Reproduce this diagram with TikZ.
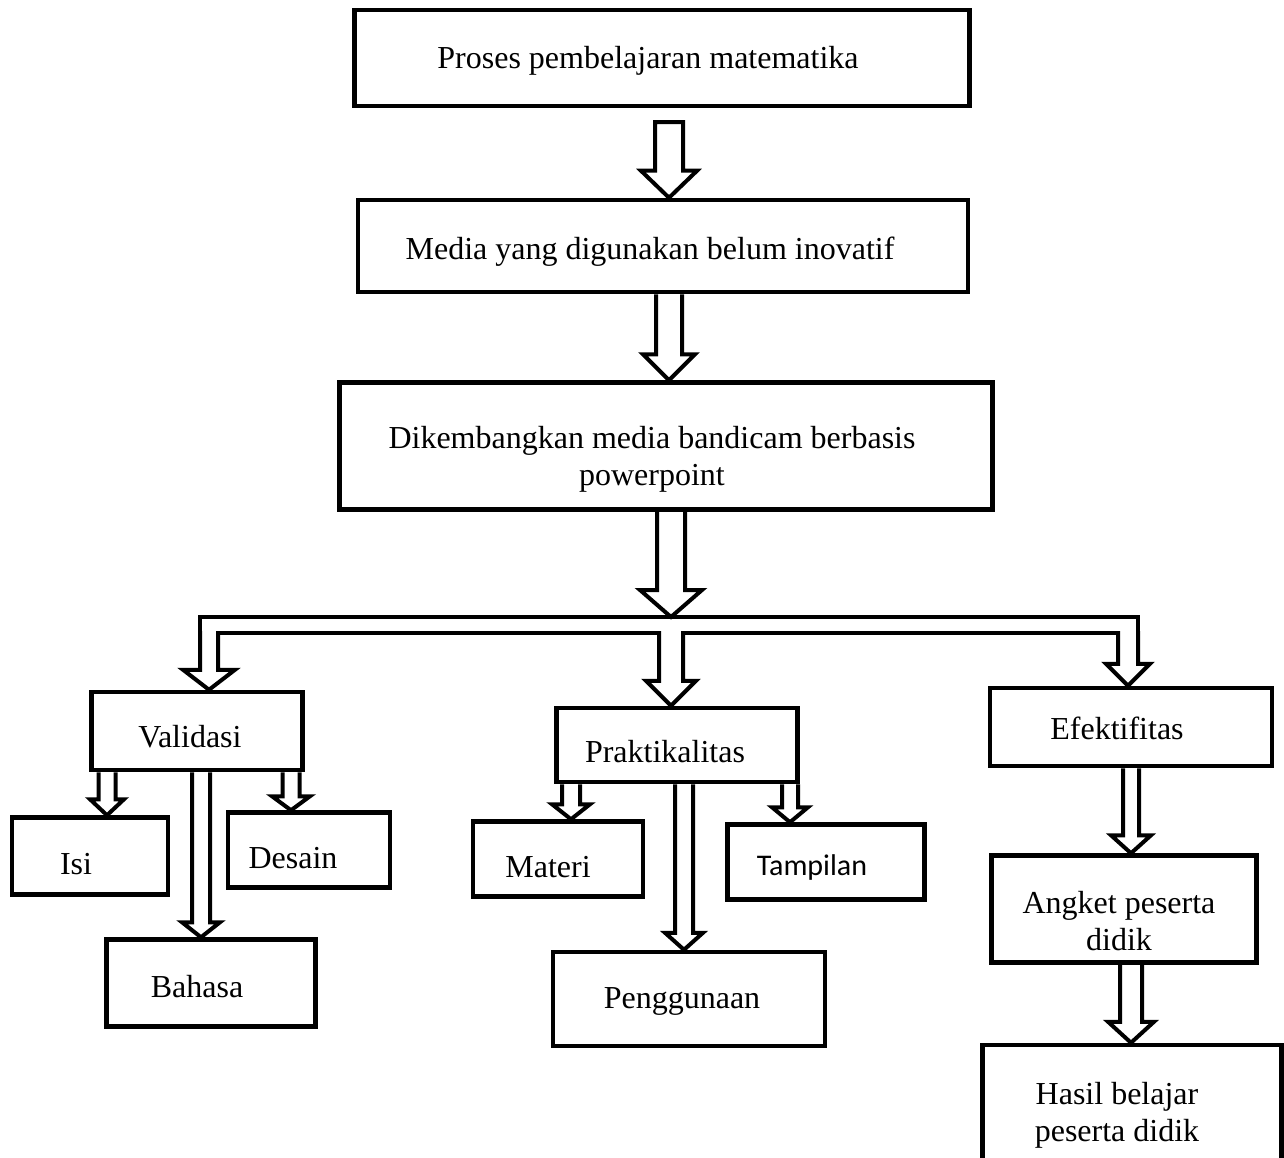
\documentclass[tikz,border=0pt]{standalone}
\usepackage{fontspec}
\setmainfont{Liberation Serif}
\newfontfamily\calibrifont{Carlito}
\usetikzlibrary{calc,backgrounds}

% hollow block arrow: [closing], start point, tip level, half shaft, half head, head length
\newcommand{\hollowarrow}[6][]{%
  \filldraw[BlockArrow] let \p1=#2, \p2=#3 in
    (\x1-#4,\y1) -- (\x1-#4,\y2+#6) -- (\x1-#5,\y2+#6) -- (\x1,\y2)
    -- (\x1+#5,\y2+#6) -- (\x1+#4,\y2+#6) -- (\x1+#4,\y1) #1;
}

\begin{document}
\begin{tikzpicture}[x=1pt, y=-1pt]

%local definitions
\tikzstyle{FlowBox} = [draw, line width=4.5pt, fill=white, rectangle, inner sep=0pt]
\tikzstyle{BoxText} = [align=center, inner sep=0pt, font=\fontsize{32}{37}\selectfont]
\tikzstyle{BlockArrow} = [draw=black, fill=white, line width=4pt, line join=miter]
\tikzstyle{BarLine} = [draw=black, line width=4pt]

\useasboundingbox (0,0) rectangle (1284,1158);

%main chain
	\node [FlowBox, minimum width=615pt, minimum height=96pt, label={[BoxText, shift={(-14,3)}]center:Proses pembelajaran matematika}] (Proses) at (662,58) {};
	\node [FlowBox, minimum width=610pt, minimum height=92pt, label={[BoxText, shift={(-13,6)}]center:Media yang digunakan belum inovatif}] (Media) at (663,246) {};
	\node [FlowBox, minimum width=653pt, minimum height=127pt, label={[BoxText, shift={(-14,13)}]center:Dikembangkan media bandicam berbasis\\powerpoint}] (Dikembangkan) at (666,446) {};

%aspects
	\node [FlowBox, minimum width=211pt, minimum height=78pt, label={[BoxText, shift={(-7,6)}]center:Validasi}] (Validasi) at (197,731) {};
	\node [FlowBox, minimum width=241pt, minimum height=74pt, label={[BoxText, shift={(-12,7)}]center:Praktikalitas}] (Praktikalitas) at (677,745) {};
	\node [FlowBox, minimum width=282pt, minimum height=78pt, label={[BoxText, shift={(-14,1)}]center:Efektifitas}] (Efektifitas) at (1131,727) {};

%validasi parts
	\node [FlowBox, minimum width=156pt, minimum height=77pt, label={[BoxText, shift={(-14,8)}]center:Isi}] (Isi) at (90,856) {};
	\node [FlowBox, minimum width=162pt, minimum height=75pt, label={[BoxText, shift={(-16,8)}]center:Desain}] (Desain) at (309,850) {};
	\node [FlowBox, minimum width=209pt, minimum height=87pt, label={[BoxText, shift={(-14,4)}]center:Bahasa}] (Bahasa) at (211,983) {};

%praktikalitas parts
	\node [FlowBox, minimum width=170pt, minimum height=75pt, label={[BoxText, shift={(-10,8)}]center:Materi}] (Materi) at (558,859) {};
	\node [FlowBox, minimum width=197pt, minimum height=75pt, label={[BoxText, shift={(-14,5)}, font=\calibrifont\fontsize{30}{34}\selectfont]center:Tampilan}] (Tampilan) at (826,862) {};
	\node [FlowBox, minimum width=272pt, minimum height=94pt, label={[BoxText, shift={(-7,2)}]center:Penggunaan}] (Penggunaan) at (689,999) {};

%efektifitas parts
	\node [FlowBox, minimum width=265pt, minimum height=107pt, label={[BoxText, shift={(-5,12)}]center:Angket peserta\\didik}] (Angket) at (1124,909) {};
	\node [FlowBox, minimum width=299pt, minimum height=140pt, label={[BoxText, shift={(-15,0)}]center:Hasil belajar\\peserta didik}] (Hasil) at (1132,1115) {};

%branch bar
	\coordinate (BarNW) at (200,617);
	\coordinate (BarSE) at (1138,633);
	\coordinate (BarLeft) at (209,631);
	\coordinate (BarMid) at (671,631);
	\coordinate (BarRight) at (1128,631);

%connections
\begin{scope}[on background layer]
	\hollowarrow[-- cycle]{($(Proses.south)+(7,14)$)}{(Media.north)}{14pt}{28pt}{27pt}
	\hollowarrow{($(Media.south)+(6,0)$)}{(Dikembangkan.north)}{13pt}{26pt}{26pt}
	\hollowarrow{($(Dikembangkan.south)+(5,0)$)}{(BarNW)}{14pt}{31pt}{27pt}

	\draw [BarLine] (BarNW) rectangle (BarSE);
	\hollowarrow{(BarLeft)}{(Validasi.north)}{9pt}{26pt}{20pt}
	\hollowarrow{(BarMid)}{(Praktikalitas.north)}{12pt}{25pt}{25pt}
	\hollowarrow{(BarRight)}{(Efektifitas.north)}{10pt}{22pt}{22pt}

	\hollowarrow{($(Validasi.south)+(-90,0)$)}{(Isi.north)}{8.5pt}{17pt}{16pt}
	\hollowarrow{($(Validasi.south)+(4,0)$)}{(Bahasa.north)}{9pt}{19pt}{15pt}
	\hollowarrow{($(Validasi.south)+(94,0)$)}{(Desain.north)}{8.5pt}{19pt}{14pt}

	\hollowarrow{($(Praktikalitas.south)+(-106,0)$)}{(Materi.north)}{9pt}{19pt}{15pt}
	\hollowarrow{($(Praktikalitas.south)+(7,0)$)}{(Penggunaan.north)}{9pt}{19pt}{17pt}
	\hollowarrow{($(Praktikalitas.south)+(113,0)$)}{(Tampilan.north)}{8pt}{18pt}{15pt}

	\hollowarrow{(Efektifitas.south)}{(Angket.north)}{8pt}{20pt}{18pt}
	\hollowarrow{($(Angket.south)+(7,0)$)}{(Hasil.north)}{11pt}{23pt}{21pt}
\end{scope}

\end{tikzpicture}
\end{document}
